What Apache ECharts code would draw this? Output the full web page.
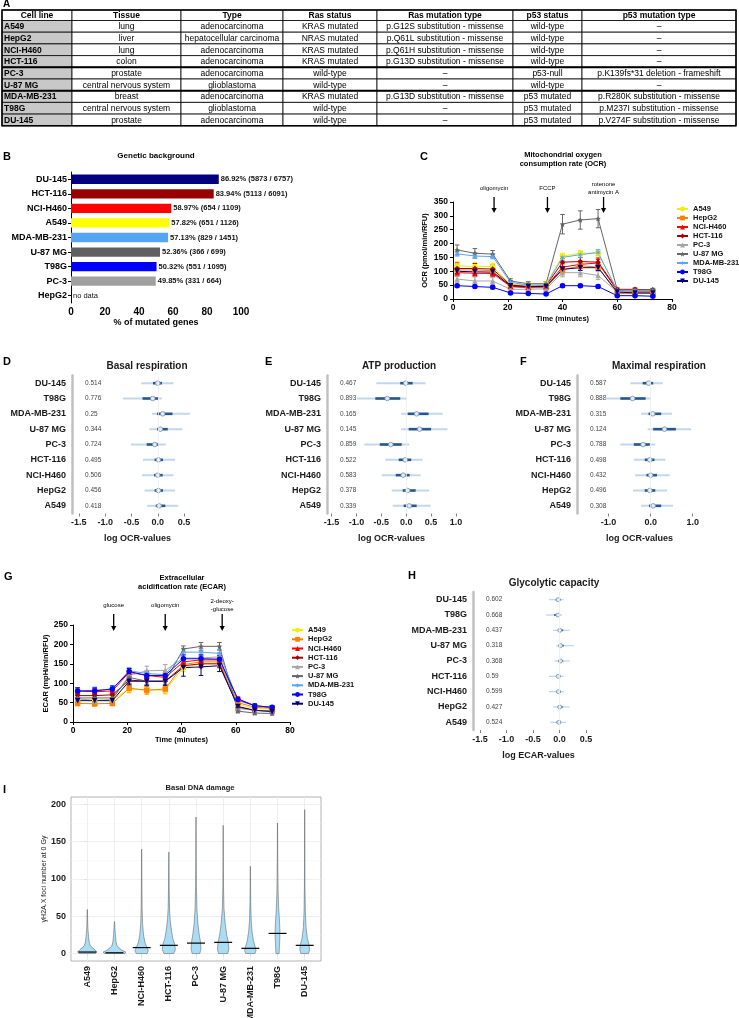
<!DOCTYPE html>
<html><head><meta charset="utf-8">
<script src="https://cdn.jsdelivr.net/npm/echarts@6/dist/echarts.min.js"></script>
<style>html,body{margin:0;padding:0;background:#fff}#c{width:739px;height:1018px}</style>
</head><body><div id="c"></div><script>
// ---------------- DATA ----------------
// Panel A table
const tableHeader = ['Cell line','Tissue','Type','Ras status','Ras mutation type','p53 status','p53 mutation type'];
const tableRows = [
 ['A549','lung','adenocarcinoma','KRAS mutated','p.G12S substitution - missense','wild-type','–'],
 ['HepG2','liver','hepatocellular carcinoma','NRAS mutated','p.Q61L substitution - missense','wild-type','–'],
 ['NCI-H460','lung','adenocarcinoma','KRAS mutated','p.Q61H substitution - missense','wild-type','–'],
 ['HCT-116','colon','adenocarcinoma','KRAS mutated','p.G13D substitution - missense','wild-type','–'],
 ['PC-3','prostate','adenocarcinoma','wild-type','–','p53-null','p.K139fs*31 deletion - frameshift'],
 ['U-87 MG','central nervous system','glioblastoma','wild-type','–','wild-type','–'],
 ['MDA-MB-231','breast','adenocarcinoma','KRAS mutated','p.G13D substitution - missense','p53 mutated','p.R280K substitution - missense'],
 ['T98G','central nervous system','glioblastoma','wild-type','–','p53 mutated','p.M237I substitution - missense'],
 ['DU-145','prostate','adenocarcinoma','wild-type','–','p53 mutated','p.V274F substitution - missense']
];
// Panel B
const geneCats = ['DU-145','HCT-116','NCI-H460','A549','MDA-MB-231','U-87 MG','T98G','PC-3','HepG2'];
const genePct = [86.92,83.94,58.97,57.82,57.13,52.36,50.32,49.85,null];
const geneLabels = ['86.92% (5873 / 6757)','83.94% (5113 / 6091)','58.97% (654 / 1109)','57.82% (651 / 1126)','57.13% (829 / 1451)','52.36% (366 / 699)','50.32% (551 / 1095)','49.85% (331 / 664)','no data'];
const geneTicks = [0,20,40,60,80,100];
// Panels C & G
const cellLines = ['A549','HepG2','NCI-H460','HCT-116','PC-3','U-87 MG','MDA-MB-231','T98G','DU-145'];
const ocrTime = [1.5,8,14.5,21,27.5,34,40,46.5,53,60,66.5,73];
const ocrMeans = [
 [120,117,117,52,53,55,155,165,165,32,32,30],
 [105,105,102,45,40,42,105,120,115,20,20,20],
 [95,93,92,45,42,45,115,125,130,30,28,27],
 [110,110,108,50,45,48,133,135,133,35,35,33],
 [72,65,65,35,35,37,95,95,85,25,25,25],
 [177,165,162,65,55,55,270,285,290,33,33,33],
 [163,155,153,60,50,50,150,160,168,30,30,28],
 [48,45,42,22,20,18,48,48,45,12,12,10],
 [100,98,97,48,45,45,107,113,113,25,22,22]
];
const ocrSem = [
 [15,15,12,8,8,8,10,10,10,5,5,5],
 [15,12,12,8,8,8,12,12,12,5,5,5],
 [12,12,10,8,8,8,12,12,12,5,5,5],
 [20,18,15,10,8,8,15,15,15,5,5,5],
 [12,15,12,8,8,8,15,15,15,5,5,5],
 [18,17,13,8,8,8,35,33,33,5,5,5],
 [8,8,8,6,6,6,10,10,10,5,5,5],
 [5,5,5,3,3,3,5,5,5,3,3,3],
 [8,8,8,6,6,6,10,10,10,4,4,4]
];
const ocrInjTime = [15,34.5,55];
const ocrInjLabel = ['oligomycin','FCCP','rotenone\nantimycin A'];
const ecarTime = [1.7,8,14.5,20.7,27.2,34,40.7,47.2,54,60.8,67,73.4];
const ecarMeans = [
 [57,57,57,85,82,82,140,150,150,45,35,33],
 [48,47,48,87,82,85,148,155,155,50,38,35],
 [80,78,80,128,120,115,155,160,160,60,42,37],
 [68,68,70,108,105,105,145,150,150,38,30,28],
 [60,55,58,120,132,133,165,165,168,35,30,28],
 [62,62,62,115,105,105,188,195,195,28,23,22],
 [80,82,85,132,125,122,180,180,177,55,42,38],
 [80,80,85,130,120,120,163,163,162,58,42,38],
 [55,55,55,105,105,105,140,142,145,40,30,27]
];
const ecarSem = [
 [8,8,8,10,10,10,10,10,10,5,4,4],
 [6,6,6,10,10,10,12,12,12,5,4,4],
 [8,8,8,10,10,10,10,10,10,5,4,4],
 [8,8,8,10,10,10,10,10,10,5,4,4],
 [10,10,10,12,12,15,10,10,10,4,4,4],
 [8,8,8,15,12,12,8,10,10,4,4,4],
 [8,8,8,8,8,8,10,10,10,5,4,4],
 [8,8,8,8,8,8,10,10,10,5,4,4],
 [8,8,8,10,10,10,22,22,15,4,4,4]
];
const ecarInjTime = [15,34,55];
const ecarInjLabel = ['glucose','oligomycin','2-deoxy-\n-glucose'];
// Forest panels D, E, F, H (top to bottom)
const forestCats = ['DU-145','T98G','MDA-MB-231','U-87 MG','PC-3','HCT-116','NCI-H460','HepG2','A549'];
const basalMed = [0.0,-0.095,0.094,0.05,-0.056,0.013,0.0,0.013,0.025];
const basalInner = [[-0.09,0.08],[-0.29,0.006],[-0.013,0.28],[-0.013,0.19],[-0.21,0.019],[-0.06,0.1],[-0.07,0.094],[-0.06,0.1],[-0.038,0.144]];
const basalOuter = [[-0.31,0.3],[-0.66,0.08],[-0.11,0.61],[-0.16,0.47],[-0.51,0.15],[-0.28,0.33],[-0.3,0.3],[-0.25,0.33],[-0.2,0.39]];
const basalP = ['0.514','0.776','0.25','0.344','0.724','0.495','0.506','0.456','0.418'];
const atpMed = [-0.01,-0.38,0.21,0.27,-0.31,-0.02,-0.06,0.03,0.06];
const atpInner = [[-0.12,0.13],[-0.62,-0.12],[0.03,0.45],[0.05,0.5],[-0.53,-0.09],[-0.15,0.1],[-0.21,0.07],[-0.07,0.19],[-0.05,0.21]];
const atpOuter = [[-0.6,0.39],[-0.99,0.01],[-0.1,0.73],[-0.1,0.83],[-0.84,0.06],[-0.42,0.33],[-0.49,0.29],[-0.29,0.46],[-0.27,0.49]];
const atpP = ['0.467','0.893','0.165','0.145','0.859','0.522','0.583','0.378','0.339'];
const maxMed = [-0.05,-0.43,0.05,0.33,-0.18,-0.02,0,-0.02,0.06];
const maxInner = [[-0.19,0.06],[-0.72,-0.12],[-0.05,0.25],[0.06,0.6],[-0.4,-0.02],[-0.14,0.09],[-0.1,0.15],[-0.14,0.11],[-0.04,0.25]];
const maxOuter = [[-0.48,0.29],[-1.08,0.01],[-0.23,0.51],[-0.07,0.96],[-0.72,0.11],[-0.4,0.35],[-0.37,0.45],[-0.42,0.39],[-0.23,0.53]];
const maxP = ['0.587','0.888','0.315','0.124','0.788','0.498','0.432','0.496','0.308'];
const glyMed = [-0.025,-0.03,0.006,0.02,0.02,-0.025,-0.02,0.006,-0.01];
const glyInner = [[-0.07,0.02],[-0.1,0],[-0.03,0.07],[-0.01,0.08],[-0.025,0.07],[-0.06,0.02],[-0.06,0.025],[-0.03,0.06],[-0.055,0.03]];
const glyOuter = [[-0.2,0.08],[-0.25,0.05],[-0.12,0.19],[-0.06,0.27],[-0.09,0.2],[-0.2,0.08],[-0.2,0.09],[-0.12,0.19],[-0.17,0.125]];
const glyP = ['0.602','0.668','0.437','0.318','0.368','0.59','0.599','0.427','0.524'];
const forestTicks1 = [-1.5,-1,-0.5,0,0.5];
const forestTicks2 = [-1.5,-1,-0.5,0,0.5,1];
const forestTicks3 = [-1,0,1];
// Panel I
const dnaCats = ['A549','HepG2','NCI-H460','HCT-116','PC-3','U-87 MG','MDA-MB-231','T98G','DU-145'];
const dnaMedian = [2,1,8,11,14,15,7,27,11];
const dnaTicks = [0,50,100,150,200];
const dnaMinor = [25,75,125,175];
const dnaViolin = [
 [[0,0.3],[2,0.36],[5,0.28],[10,0.12],[15,0.07],[25,0.04],[35,0.02],[45,0.012],[59,0.004]],
 [[0,0.38],[2,0.42],[5,0.25],[10,0.1],[15,0.06],[25,0.035],[35,0.015],[43,0.004]],
 [[0,0.2],[4,0.245],[8,0.2],[15,0.12],[25,0.07],[40,0.035],[60,0.018],[90,0.01],[120,0.006],[140,0.003]],
 [[0,0.18],[5,0.24],[12,0.22],[20,0.15],[30,0.1],[45,0.05],[60,0.025],[90,0.01],[136,0.003]],
 [[0,0.14],[6,0.18],[15,0.17],[25,0.12],[40,0.07],[60,0.035],[90,0.015],[130,0.008],[183,0.003]],
 [[0,0.17],[6,0.21],[15,0.19],[25,0.13],[40,0.075],[60,0.03],[90,0.012],[130,0.006],[172,0.003]],
 [[0,0.17],[4,0.21],[10,0.17],[18,0.11],[30,0.06],[45,0.03],[70,0.012],[117,0.003]],
 [[0,0.06],[10,0.07],[20,0.085],[30,0.09],[45,0.07],[60,0.045],[80,0.025],[110,0.012],[140,0.006],[175,0.003]],
 [[0,0.14],[5,0.18],[12,0.16],[20,0.1],[35,0.05],[55,0.025],[90,0.01],[140,0.005],[193,0.003]]
];

// ---------------- STYLE ----------------
const FF = "'Liberation Sans', Arial, sans-serif";
const FN = "'Liberation Sans Narrow', 'Liberation Sans', Arial, sans-serif";
const geneColors = ['#000080','#990000','#ff0000','#ffff00','#55a5f5','#606060','#0000ff','#a0a0a0','#a0a0a0'];
const lineColors = ['#f2ee00','#ff8000','#ff0000','#a50000','#a6a6a6','#666666','#5aa5f5','#0000ff','#000080'];
const STAR = 'path://M0,-10 L2.9,-4 L9.5,-3.1 L4.8,1.5 L5.9,8.1 L0,5 L-5.9,8.1 L-4.8,1.5 L-9.5,-3.1 L-2.9,-4 Z';
const AST = 'path://M0,-10 L2,-3.5 L8.7,-5 L4,0 L8.7,5 L2,3.5 L0,10 L-2,3.5 L-8.7,5 L-4,0 L-8.7,-5 L-2,-3.5 Z';
const lineSymbols = ['circle','rect','triangle','diamond','triangle',STAR,AST,'circle','triangle'];
const lineRot = [0,0,0,0,0,0,0,0,180];

const G = [];
function txt(x, y, s, o) {
  G.push({type:'text', x:x, y:y, silent:true, z:10,
    style:Object.assign({text:s, fontFamily:FF, fontSize:8, fill:'#000', align:'center', verticalAlign:'middle'}, o||{})});
}
// Table (panel A)
const colX = [2,72,181,283,377,513,582,736];
const tTop = 10, hdrH = 10.5, rowH = 11.7;
for (let c = 0; c < 7; c++) {
  G.push({type:'rect', silent:true, shape:{x:colX[c], y:tTop, width:colX[c+1]-colX[c], height:hdrH}, style:{fill:'#fff', stroke:'#000', lineWidth:0.8}});
  txt((colX[c]+colX[c+1])/2, tTop+hdrH/2+0.5, tableHeader[c], {fontFamily:FN, fontSize:8.5, fontWeight:'bold'});
}
tableRows.forEach((row, r) => {
  const y = tTop + hdrH + r*rowH;
  row.forEach((cell, c) => {
    G.push({type:'rect', silent:true, shape:{x:colX[c], y:y, width:colX[c+1]-colX[c], height:rowH}, style:{fill: c===0 ? '#c8c8c8' : '#fff', stroke:'#000', lineWidth:0.8}});
    if (c === 0) txt(colX[c]+2, y+rowH/2+0.5, cell, {fontFamily:FN, fontSize:8.5, fontWeight:'bold', align:'left'});
    else txt((colX[c]+colX[c+1])/2, y+rowH/2+0.5, cell, {fontFamily:FN, fontSize:8.5});
  });
});
[4,6].forEach(r => {
  const y = tTop + hdrH + r*rowH;
  G.push({type:'line', silent:true, z:5, shape:{x1:colX[0], y1:y, x2:colX[7], y2:y}, style:{stroke:'#000', lineWidth:2}});
});
G.push({type:'rect', silent:true, z:5, shape:{x:colX[0], y:tTop, width:colX[7]-colX[0], height:hdrH+9*rowH}, style:{fill:'none', stroke:'#000', lineWidth:1.5}});

// panel letters
const BL = {fontSize:11, fontWeight:'bold', align:'left'};
txt(3,4.5,'A',{fontSize:10, fontWeight:'bold', align:'left'}); txt(3,157,'B',BL); txt(420,157,'C',BL); txt(3,362,'D',BL); txt(265,362,'E',BL);
txt(520,362,'F',BL); txt(4,577,'G',BL); txt(408,576,'H',BL); txt(3,790,'I',BL);
// titles
txt(156,156,'Genetic background',{fontSize:8, fontWeight:'bold'});
txt(563,155,'Mitochondrial oxygen',{fontSize:7.5, fontWeight:'bold'});
txt(563,164,'consumption rate (OCR)',{fontSize:7.5, fontWeight:'bold'});
txt(147,366,'Basal respiration',{fontSize:10, fontWeight:'bold', fill:'#1a1a1a'});
txt(399,366,'ATP production',{fontSize:10, fontWeight:'bold', fill:'#1a1a1a'});
txt(659,366,'Maximal respiration',{fontSize:10, fontWeight:'bold', fill:'#1a1a1a'});
txt(182,578,'Extracellular',{fontSize:7.5, fontWeight:'bold'});
txt(182,587,'acidification rate (ECAR)',{fontSize:7.5, fontWeight:'bold'});
txt(554,583,'Glycolytic capacity',{fontSize:10, fontWeight:'bold', fill:'#1a1a1a'});
txt(200,788,'Basal DNA damage',{fontSize:7.5, fontWeight:'bold', fill:'#1a1a1a'});

// ---------------- HELPERS ----------------
function prismX(gi, name, gap) {
  return {gridIndex:gi, type:'value', min:0, max:80, interval:20,
    axisLine:{lineStyle:{color:'#000', width:1}}, axisTick:{length:3, lineStyle:{color:'#000'}},
    axisLabel:{fontSize:8.5, fontWeight:'bold', color:'#000', margin:4, fontFamily:FF},
    splitLine:{show:false}, name:name, nameLocation:'middle', nameGap:gap,
    nameTextStyle:{fontSize:7.5, fontWeight:'bold', color:'#000', fontFamily:FF}};
}
function prismY(gi, max, name, gap) {
  return {gridIndex:gi, type:'value', min:0, max:max, interval:50,
    axisLine:{show:true, lineStyle:{color:'#000', width:1}}, axisTick:{show:true, length:3, lineStyle:{color:'#000'}},
    axisLabel:{fontSize:8.5, fontWeight:'bold', color:'#000', margin:5, fontFamily:FF},
    splitLine:{show:false}, name:name, nameLocation:'middle', nameRotate:90, nameGap:gap,
    nameTextStyle:{fontSize:7.5, fontWeight:'bold', color:'#000', fontFamily:FF}};
}
function forestX(gi, min, max, ticks, name) {
  return {gridIndex:gi, type:'value', min:min, max:max,
    axisLine:{lineStyle:{color:'#808080', width:1}},
    axisTick:{show:true, customValues:ticks, length:3, lineStyle:{color:'#808080'}},
    axisLabel:{customValues:ticks, formatter:v=>Number(v).toFixed(1), fontSize:9, fontWeight:'bold', color:'#1a1a1a', margin:5, fontFamily:FF},
    splitLine:{show:false}, name:name, nameLocation:'middle', nameGap:21,
    nameTextStyle:{fontSize:9, fontWeight:'bold', color:'#1a1a1a', fontFamily:FF}};
}
function forestY(gi) {
  return {gridIndex:gi, type:'category', inverse:true, data:forestCats,
    axisLine:{show:true, onZero:false, lineStyle:{color:'#c0c0c0', width:2.5}}, axisTick:{show:false},
    axisLabel:{fontSize:9, fontWeight:'bold', color:'#1a1a1a', margin:6, interval:0, fontFamily:FF},
    splitLine:{show:false}};
}
function forestSeries(gi, med, inner, outer, pv, thin) {
  const ow = thin ? 1.3 : 2, iw = thin ? 1.8 : 2.6, r = thin ? 2 : 2.3;
  return {type:'custom', xAxisIndex:gi, yAxisIndex:gi, clip:false, silent:true, z:4,
    data: med.map((m,i)=>[m, i, inner[i][0], inner[i][1], outer[i][0], outer[i][1]]),
    encode:{x:[0,2,3,4,5], y:1},
    renderItem: function(params, api) {
      const i = api.value(1);
      const c = api.coord([api.value(0), i]);
      const y = c[1];
      const o0 = api.coord([api.value(4), i])[0], o1 = api.coord([api.value(5), i])[0];
      const i0 = api.coord([api.value(2), i])[0], i1 = api.coord([api.value(3), i])[0];
      return {type:'group', children:[
        {type:'text', x: params.coordSys.x + 13, y: y, style:{text: pv[params.dataIndex], fontSize:6.5, fill:'#444', align:'left', verticalAlign:'middle', fontFamily:FF}},
        {type:'line', shape:{x1:o0,y1:y,x2:o1,y2:y}, style:{stroke:'#c3d7ea', lineWidth:ow}},
        {type:'line', shape:{x1:i0,y1:y,x2:i1,y2:y}, style:{stroke:'#27568f', lineWidth:iw}},
        {type:'circle', shape:{cx:c[0], cy:y, r:r}, style:{fill:'#e2eaf3', stroke:'#7393b8', lineWidth:0.8}}
      ]};
    }
  };
}
function zeroLineSeries(gi) {
  return {type:'scatter', xAxisIndex:gi, yAxisIndex:gi, data:[], silent:true, z:1,
    markLine:{silent:true, symbol:['none','none'], label:{show:false}, animation:false,
      emphasis:{disabled:true}, data:[{xAxis:0, lineStyle:{color:'#eeeeee', width:0.8, type:'solid'}}]}};
}
function arrowSeries(gi, times, labels, topOff, botOff) {
  return {type:'custom', xAxisIndex:gi, yAxisIndex:gi, clip:false, silent:true, z:6,
    data: times.map(t=>[t, 0]), encode:{x:0, y:1},
    renderItem: function(params, api) {
      const x = api.coord([api.value(0), 0])[0];
      const top = params.coordSys.y + topOff, bot = params.coordSys.y + botOff;
      return {type:'group', children:[
        {type:'line', shape:{x1:x, y1:top, x2:x, y2:bot-4}, style:{stroke:'#000', lineWidth:1.3}},
        {type:'polygon', shape:{points:[[x-2.6,bot-5],[x+2.6,bot-5],[x,bot]]}, style:{fill:'#000'}},
        {type:'text', x:x, y:top-8.5, style:{text:labels[params.dataIndex], fontSize:6, lineHeight:7.5, fill:'#000', align:'center', verticalAlign:'middle', fontFamily:FF}}
      ]};
    }};
}
function errSeries(gi, times, means, sems, color, name) {
  return {type:'custom', name:name, xAxisIndex:gi, yAxisIndex:gi, clip:false, silent:true, z:3,
    data: times.map((t,j)=>[t, means[j], sems[j]]), encode:{x:0, y:1},
    renderItem: function(params, api) {
      const t = api.value(0), m = api.value(1), e = api.value(2);
      const a = api.coord([t, m+e]), b = api.coord([t, m-e]);
      const cap = 2.3, st = {stroke:color, lineWidth:1};
      return {type:'group', children:[
        {type:'line', shape:{x1:a[0],y1:a[1],x2:b[0],y2:b[1]}, style:st},
        {type:'line', shape:{x1:a[0]-cap,y1:a[1],x2:a[0]+cap,y2:a[1]}, style:st},
        {type:'line', shape:{x1:b[0]-cap,y1:b[1],x2:b[0]+cap,y2:b[1]}, style:st}
      ]};
    }};
}
function legendAt(left, top, lh) {
  return {data:cellLines, left:left, top:top, orient:'vertical', padding:0, itemGap:0,
    itemWidth:11, itemHeight:6, selectedMode:false,
    textStyle:{fontSize:7.5, fontWeight:'bold', color:'#111', lineHeight:lh, fontFamily:FF}};
}

// ---------------- SERIES ----------------
const series = [];
series.push({type:'bar', xAxisIndex:0, yAxisIndex:0, barWidth:'64%', silent:true,
  data: genePct.map((v,i)=>({value: v==null ? 0 : v, itemStyle:{color:geneColors[i]},
    label: v==null ? {fontWeight:'normal'} : {}})),
  label:{show:true, position:'right', distance:2, formatter:p=>geneLabels[p.dataIndex],
    fontSize:7.5, fontWeight:'bold', color:'#111', fontFamily:FF}});
cellLines.forEach((name, i) => {
  series.push(errSeries(1, ocrTime, ocrMeans[i], ocrSem[i], lineColors[i], name+' ocr sem'));
  series.push({type:'line', name:name, xAxisIndex:1, yAxisIndex:1, z:5, silent:true,
    data: ocrTime.map((t,j)=>[t, ocrMeans[i][j]]), symbol:lineSymbols[i], symbolRotate:lineRot[i], symbolSize:5.5,
    lineStyle:{color:lineColors[i], width:1}, itemStyle:{color:lineColors[i]}});
  series.push(errSeries(5, ecarTime, ecarMeans[i], ecarSem[i], lineColors[i], name+' ecar sem'));
  series.push({type:'line', name:name, xAxisIndex:5, yAxisIndex:5, z:5, silent:true,
    data: ecarTime.map((t,j)=>[t, ecarMeans[i][j]]), symbol:lineSymbols[i], symbolRotate:lineRot[i], symbolSize:5.5,
    lineStyle:{color:lineColors[i], width:1}, itemStyle:{color:lineColors[i]}});
});
series.push(arrowSeries(1, ocrInjTime, ocrInjLabel, -5, 11));
series.push(arrowSeries(5, ecarInjTime, ecarInjLabel, -11, 6));
[2,3,4,6].forEach(gi => series.push(zeroLineSeries(gi)));
series.push(forestSeries(2, basalMed, basalInner, basalOuter, basalP, false));
series.push(forestSeries(3, atpMed, atpInner, atpOuter, atpP, false));
series.push(forestSeries(4, maxMed, maxInner, maxOuter, maxP, false));
series.push(forestSeries(6, glyMed, glyInner, glyOuter, glyP, true));
// panel I gridlines
series.push({type:'scatter', xAxisIndex:7, yAxisIndex:7, data:[], silent:true, z:1,
  markLine:{silent:true, symbol:['none','none'], label:{show:false}, animation:false,
    data: [].concat(
      dnaMinor.map(v=>({yAxis:v, lineStyle:{color:'#f4f4f4', width:0.5, type:'solid'}})),
      dnaTicks.map(v=>({yAxis:v, lineStyle:{color:'#ebebeb', width:0.8, type:'solid'}})),
      dnaCats.map((c,i)=>({xAxis:i, lineStyle:{color:'#ebebeb', width:0.8, type:'solid'}})))}});
series.push({type:'custom', xAxisIndex:7, yAxisIndex:7, z:5, silent:true,
  data: dnaCats.map((c,i)=>[i, dnaMedian[i]]), encode:{x:0, y:1},
  renderItem: function(params, api) {
    const i = params.dataIndex, prof = dnaViolin[i];
    const pts = [];
    prof.forEach(p => pts.push(api.coord([i - p[1], p[0]])));
    for (let k = prof.length-1; k >= 0; k--) pts.push(api.coord([i + prof[k][1], prof[k][0]]));
    const m0 = api.coord([i-0.33, dnaMedian[i]]), m1 = api.coord([i+0.33, dnaMedian[i]]);
    return {type:'group', children:[
      {type:'polygon', shape:{points:pts}, style:{fill:'#a9dcf5', stroke:'#555', lineWidth:0.5}},
      {type:'line', shape:{x1:m0[0], y1:m0[1], x2:m1[0], y2:m1[1]}, style:{stroke:'#000', lineWidth:1.2}}
    ]};
  }});

// ---------------- OPTION ----------------
const gridBase = {outerBoundsMode:'none', containLabel:false};
const option = {
  animation:false,
  backgroundColor:'#fff',
  textStyle:{fontFamily:FF},
  grid:[
    Object.assign({left:71, top:172, width:170, height:131}, gridBase),
    Object.assign({left:453, top:202, width:219, height:97}, gridBase),
    Object.assign({left:72, top:375.5, width:131, height:138}, gridBase),
    Object.assign({left:327, top:375.5, width:129, height:138}, gridBase),
    Object.assign({left:577, top:375.5, width:125, height:138}, gridBase),
    Object.assign({left:73, top:625, width:217, height:97}, gridBase),
    Object.assign({left:473, top:592, width:131, height:138}, gridBase),
    Object.assign({left:71, top:797, width:250, height:164, show:true, borderColor:'#b3b3b3', borderWidth:1, backgroundColor:'#fff'}, gridBase)
  ],
  xAxis:[
    {gridIndex:0, type:'value', min:0, max:100, interval:20,
      axisLine:{lineStyle:{color:'#000', width:1}}, axisTick:{length:3, lineStyle:{color:'#000'}},
      axisLabel:{customValues:geneTicks, fontSize:10, fontWeight:'bold', color:'#000', margin:4, fontFamily:FF},
      splitLine:{show:false}, name:'% of mutated genes', nameLocation:'middle', nameGap:15,
      nameTextStyle:{fontSize:9, fontWeight:'bold', color:'#000', fontFamily:FF}},
    prismX(1, 'Time (minutes)', 16),
    forestX(2, -1.63, 0.86, forestTicks1, 'log OCR-values'),
    forestX(3, -1.59, 1.0, forestTicks2, 'log OCR-values'),
    forestX(4, -1.75, 1.22, forestTicks3, 'log OCR-values'),
    prismX(5, 'Time (minutes)', 13),
    forestX(6, -1.63, 0.84, forestTicks1, 'log ECAR-values'),
    {gridIndex:7, type:'value', min:-0.6, max:8.6,
      axisLine:{show:false},
      axisTick:{show:true, customValues:dnaCats.map((c,i)=>i), length:3, lineStyle:{color:'#b3b3b3'}},
      axisLabel:{customValues:dnaCats.map((c,i)=>i), formatter:v=>dnaCats[Math.round(v)], rotate:90,
        fontSize:9, fontWeight:'bold', color:'#1a1a1a', margin:5, fontFamily:FF},
      splitLine:{show:false}}
  ],
  yAxis:[
    {gridIndex:0, type:'category', inverse:true, data:geneCats,
      axisLine:{show:true, onZero:false, lineStyle:{color:'#000', width:1}}, axisTick:{show:true, length:3, alignWithLabel:true, lineStyle:{color:'#000'}},
      axisLabel:{fontSize:9, fontWeight:'bold', color:'#000', margin:4, interval:0, fontFamily:FF}},
    prismY(1, 350, 'OCR (pmol/min/RFU)', 24),
    forestY(2), forestY(3), forestY(4),
    prismY(5, 250, 'ECAR (mpH/min/RFU)', 22),
    forestY(6),
    {gridIndex:7, type:'value', min:-10, max:210,
      axisLine:{show:false},
      axisTick:{show:true, customValues:dnaTicks, length:3, lineStyle:{color:'#b3b3b3'}},
      axisLabel:{customValues:dnaTicks, fontSize:9, fontWeight:'bold', color:'#1a1a1a', margin:5, fontFamily:FF},
      splitLine:{show:false}, name:'γH2A.X foci number at 0 Gy', nameLocation:'middle', nameRotate:90, nameGap:22,
      nameTextStyle:{fontSize:7, color:'#1a1a1a', fontFamily:FF}}
  ],
  legend:[legendAt(676, 204.5, 9), legendAt(291, 625.5, 9.2)],
  graphic:{elements:G},
  series:series
};
const chart = echarts.init(document.getElementById('c'), null, {renderer:'canvas', width:739, height:1018});
chart.setOption(option);
</script></body></html>
